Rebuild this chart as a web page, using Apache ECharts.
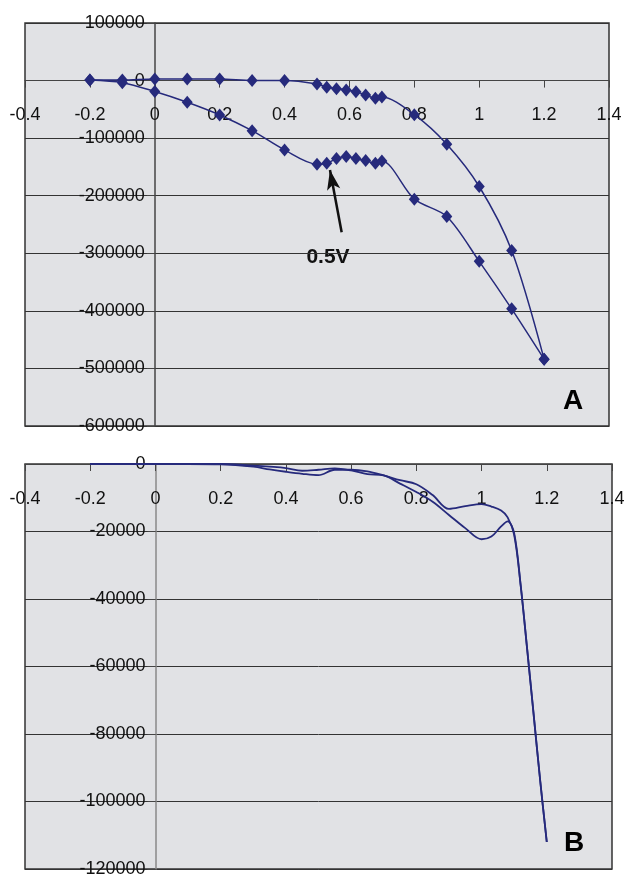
<!DOCTYPE html>
<html><head><meta charset="utf-8">
<script src="https://cdn.jsdelivr.net/npm/echarts@6/dist/echarts.min.js"></script>
<style>html,body{margin:0;padding:0;background:#fff}#c{width:625px;height:874px}</style>
</head><body><div id="c"></div>
<script>
// Chart A
const xA = [-0.2,-0.1,0,0.1,0.2,0.3,0.4,0.5,0.53,0.56,0.59,0.62,0.65,0.68,0.7,0.8,0.9,1.0,1.1,1.2];
const aUpper = [1000,1000,2800,2800,2800,0,0,-5900,-11600,-14000,-16300,-19300,-25000,-30700,-28500,-59200,-110600,-184000,-295300,-483900];
const aLower = [1000,-3600,-19000,-37700,-59700,-87000,-120500,-145300,-143600,-135500,-132000,-135500,-139000,-143600,-139600,-206000,-236000,-314000,-396500,-483900];
// Chart B
const xB = [-0.2,-0.1,0,0.1,0.2,0.3,0.35,0.4,0.45,0.5,0.55,0.6,0.65,0.7,0.75,0.8,0.85,0.9,0.95,1.0,1.03,1.06,1.08,1.1,1.12,1.14,1.16,1.18,1.2];
const bP = [0,0,0,0,-100,-800,-1600,-2300,-2900,-3300,-1700,-1700,-2200,-3400,-4800,-6000,-9200,-13300,-12500,-11900,-12600,-13800,-15800,-21000,-36000,-55000,-74500,-94000,-112000];
const bQ = [0,0,0,0,0,-500,-800,-1200,-2000,-1700,-1300,-1900,-3000,-3400,-5800,-8300,-11200,-15100,-19000,-22300,-21500,-18500,-17000,-20500,-36000,-55000,-74500,-94000,-112000];
const xTicks = {min:-0.4, max:1.4, interval:0.2};
const yA = {min:-600000, max:100000, interval:100000};
const yB = {min:-120000, max:0, interval:20000};
const arrowFrom = [0.576,-263400], arrowTo = [0.540,-155200];

const navy = '#262A7C';
const FONT = '"Liberation Sans",Arial,sans-serif';
const lbl = {color:'#111', fontSize:18, fontFamily:FONT};
const gA = {left:25, top:23, width:584, height:403};
const gB = {left:25, top:464, width:587, height:405};
// offsets that place each axis on the other axis' zero
const zeroFrac = (lo,hi)=> (0-lo)/(hi-lo);
function xAxis(gi, g, yr, margin){
  const off = -(g.height*zeroFrac(yr.min,yr.max));
  return {type:'value', gridIndex:gi, min:xTicks.min, max:xTicks.max, interval:xTicks.interval, position:'bottom', offset:off,
  axisLine:{onZero:false, lineStyle:{color:'#444', width:1.2}}, axisTick:{show:true, length:7, lineStyle:{color:'#444'}},
  axisLabel:Object.assign({margin:margin, showMinLabel:true, showMaxLabel:true, hideOverlap:false, formatter:v=>String(+v.toFixed(1))}, lbl),
  splitLine:{show:false}};}
function yAxis(gi, g, r, axisColor){
  const off = -(g.width*zeroFrac(xTicks.min,xTicks.max));
  return {type:'value', gridIndex:gi, min:r.min, max:r.max, interval:r.interval, position:'left', offset:off,
  axisLine:{onZero:false, show:true, lineStyle:{color:axisColor, width:1.5}}, axisTick:{show:true, length:8, lineStyle:{color:'#444'}},
  axisLabel:Object.assign({margin:10, showMinLabel:true, showMaxLabel:true, hideOverlap:false, formatter:v=>String(v)}, lbl),
  splitLine:{show:true, lineStyle:{color:'#333', width:1}}};}
const pairs=(xs,ys)=>xs.map((x,i)=>[x,ys[i]]);

const chart = echarts.init(document.getElementById('c'), null, {renderer:'canvas'});
chart.setOption({
  animation:false,
  backgroundColor:'#fff',
  grid:[
    Object.assign({show:true, containLabel:false, outerBoundsMode:'none', backgroundColor:'#E1E2E5', borderColor:'#333', borderWidth:1.5}, gA),
    Object.assign({show:true, containLabel:false, outerBoundsMode:'none', backgroundColor:'#E1E2E5', borderColor:'#333', borderWidth:1.5}, gB)
  ],
  xAxis:[xAxis(0, gA, yA, 25), xAxis(1, gB, yB, 26)],
  yAxis:[yAxis(0, gA, yA, '#444'), yAxis(1, gB, yB, '#888')],
  series:[
    {type:'line', xAxisIndex:0, yAxisIndex:0, data:pairs(xA,aUpper), smooth:0.3, symbol:'diamond', symbolSize:[11,13],
     itemStyle:{color:navy}, lineStyle:{color:navy, width:1.5}},
    {type:'line', xAxisIndex:0, yAxisIndex:0, data:pairs(xA,aLower), smooth:0.3, symbol:'diamond', symbolSize:[11,13],
     itemStyle:{color:navy}, lineStyle:{color:navy, width:1.5},
     markLine:{silent:true, symbol:['none','arrow'], symbolSize:[10,20], label:{show:false},
       lineStyle:{color:'#111', width:2.5, type:'solid'},
       data:[[{coord:arrowFrom},{coord:arrowTo}]]}},
    {type:'line', xAxisIndex:1, yAxisIndex:1, data:pairs(xB,bP), smooth:0.35, showSymbol:false, lineStyle:{color:navy, width:1.8}},
    {type:'line', xAxisIndex:1, yAxisIndex:1, data:pairs(xB,bQ), smooth:0.35, showSymbol:false, lineStyle:{color:navy, width:1.8}}
  ],
  graphic:[
    {type:'text', x:328, y:257, style:{text:'0.5V', fontSize:21, fontWeight:'bold', fontFamily:FONT, fill:'#111', align:'center', verticalAlign:'middle'}},
    {type:'text', x:573, y:401, style:{text:'A', fontSize:28, fontWeight:'bold', fontFamily:FONT, fill:'#000', align:'center', verticalAlign:'middle'}},
    {type:'text', x:574, y:843, style:{text:'B', fontSize:28, fontWeight:'bold', fontFamily:FONT, fill:'#000', align:'center', verticalAlign:'middle'}}
  ]
});
</script></body></html>
